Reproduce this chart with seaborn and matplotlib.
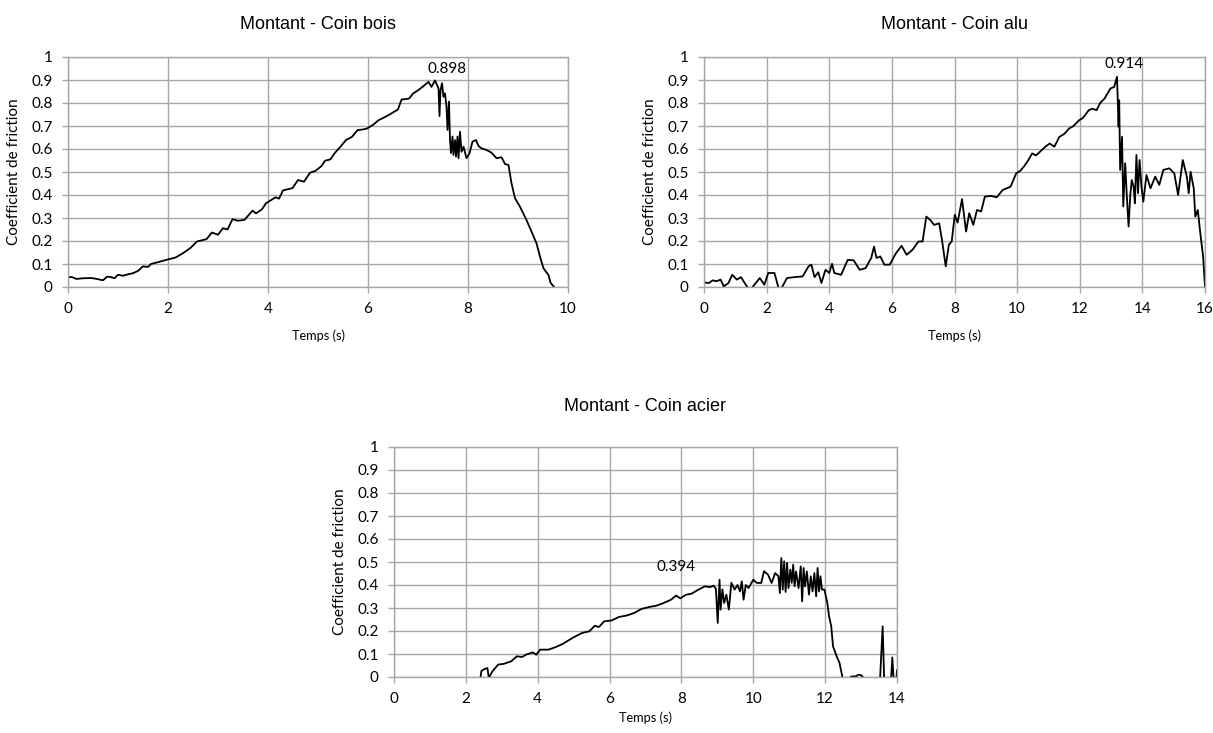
import numpy as np
import pandas as pd
import matplotlib
matplotlib.use("Agg")
import matplotlib.pyplot as plt
import seaborn as sns

# ---- Montant - Coin bois ----
t_bois = [0.0, 0.08, 0.17, 0.3, 0.47, 0.58, 0.70, 0.78, 0.86, 0.93, 1.0, 1.1, 1.2, 1.3,
          1.4, 1.5, 1.6, 1.66, 1.8, 2.0, 2.15, 2.3, 2.45, 2.58, 2.77, 2.88,
          3.0, 3.1, 3.19, 3.29, 3.4, 3.53, 3.69, 3.76, 3.88, 3.96, 4.15, 4.22, 4.3, 4.49,
          4.6, 4.72, 4.84, 4.95, 5.07, 5.14, 5.25, 5.33, 5.45, 5.56, 5.68, 5.79, 5.9,
          5.98, 6.1, 6.21, 6.33, 6.44, 6.6, 6.67, 6.82, 6.9,
          7.0, 7.09, 7.21, 7.27, 7.34, 7.41, 7.43, 7.45, 7.48, 7.51, 7.54, 7.57, 7.59, 7.62,
          7.64, 7.66, 7.69, 7.71, 7.74, 7.76, 7.79, 7.81, 7.84, 7.87, 7.91, 7.97, 8.03,
          8.09, 8.16, 8.21, 8.27, 8.37, 8.47, 8.57, 8.67, 8.74, 8.81, 8.87, 8.94, 9.04,
          9.17, 9.27, 9.37, 9.44, 9.51, 9.61, 9.65, 9.72]
mu_bois = [0.043, 0.043, 0.035, 0.038, 0.039, 0.035, 0.029, 0.045, 0.043, 0.038, 0.053,
           0.049, 0.055, 0.06, 0.07, 0.09, 0.087, 0.10, 0.108, 0.12, 0.128, 0.147, 0.17,
           0.198, 0.208, 0.237, 0.227, 0.256, 0.25, 0.295, 0.288, 0.292, 0.332, 0.32,
           0.338, 0.364, 0.39, 0.384, 0.42, 0.43, 0.465, 0.458, 0.497, 0.505, 0.526,
           0.549, 0.555, 0.581, 0.61, 0.639, 0.653, 0.682, 0.685, 0.689, 0.705, 0.725,
           0.738, 0.751, 0.772, 0.815, 0.819, 0.841, 0.855, 0.87, 0.892, 0.87, 0.898,
           0.864, 0.743, 0.855, 0.886, 0.827, 0.842, 0.784, 0.683, 0.806, 0.639, 0.582,
           0.654, 0.574, 0.639, 0.567, 0.654, 0.56, 0.675, 0.588, 0.61, 0.56, 0.581, 0.632,
           0.639, 0.613, 0.603, 0.596, 0.584, 0.56, 0.564, 0.535, 0.53, 0.451, 0.386,
           0.349, 0.291, 0.241, 0.19, 0.132, 0.081, 0.052, 0.019, 0.0]

# ---- Montant - Coin alu ----
t_alu = [0.0, 0.15, 0.28, 0.4, 0.53, 0.63, 0.78, 0.9, 1.05, 1.18, 1.4, 1.53, 1.78, 1.93,
         2.05, 2.25, 2.38, 2.48, 2.65, 2.9, 3.15, 3.34, 3.43, 3.53, 3.65, 3.75, 3.88, 4.0,
         4.09, 4.16, 4.38, 4.59, 4.78, 4.97, 5.16, 5.34, 5.43, 5.51, 5.63, 5.76, 5.93,
         6.13, 6.31, 6.47, 6.66, 6.85, 6.98, 7.1, 7.22, 7.35, 7.51, 7.6, 7.72, 7.82, 7.91,
         8.01, 8.1, 8.24, 8.37, 8.47, 8.6, 8.72, 8.85, 8.97, 9.16, 9.35, 9.54, 9.79, 9.97,
         10.1, 10.23, 10.35, 10.48, 10.6, 10.73, 10.9, 11.04, 11.19, 11.35, 11.5, 11.66,
         11.8, 11.98, 12.1, 12.29, 12.4, 12.54, 12.65, 12.79,
         12.98, 13.1, 13.19, 13.24, 13.26, 13.29, 13.35, 13.39, 13.45, 13.51, 13.56,
         13.61, 13.66, 13.72, 13.76, 13.81, 13.86, 13.91, 13.97, 14.03, 14.13, 14.26,
         14.41, 14.54, 14.67, 14.86, 15.02, 15.14, 15.29, 15.42, 15.48, 15.54, 15.64,
         15.69, 15.77, 15.85, 15.94, 16.0]
mu_alu = [0.02, 0.017, 0.029, 0.025, 0.032, 0.003, 0.017, 0.053, 0.032, 0.043, -0.004,
          -0.004, 0.039, 0.01, 0.061, 0.061, -0.004, -0.004, 0.039, 0.043, 0.046, 0.09,
          0.097, 0.043, 0.064, 0.017, 0.075, 0.061, 0.101, 0.061, 0.053, 0.118, 0.116,
          0.075, 0.082, 0.126, 0.176, 0.126, 0.133, 0.097, 0.097, 0.147, 0.179, 0.14,
          0.162, 0.198, 0.198, 0.306, 0.292, 0.27, 0.277, 0.205, 0.09, 0.184, 0.198,
          0.314, 0.28, 0.382, 0.241, 0.321, 0.27, 0.335, 0.328, 0.393, 0.396, 0.39,
          0.422, 0.436, 0.494, 0.505, 0.526, 0.55, 0.581, 0.572, 0.588, 0.61, 0.624, 0.61,
          0.653, 0.665, 0.689, 0.70, 0.725, 0.735, 0.769, 0.775, 0.769, 0.80, 0.819,
          0.863, 0.87, 0.914, 0.697, 0.812, 0.509, 0.653, 0.35,
          0.538, 0.379, 0.263, 0.393, 0.465, 0.436, 0.364, 0.574, 0.408, 0.552, 0.436,
          0.371, 0.487, 0.429, 0.48, 0.444, 0.509, 0.516, 0.494, 0.4, 0.552, 0.48, 0.408,
          0.501, 0.429, 0.306, 0.335, 0.234, 0.133, 0.0]

# ---- Montant - Coin acier ----
t_acier = [2.41, 2.43, 2.52, 2.6, 2.64, 2.74, 2.9, 3.05, 3.26, 3.42, 3.57, 3.67, 3.86,
           3.96, 4.07, 4.3, 4.5, 4.71, 4.97, 5.23, 5.44, 5.59, 5.7, 5.85, 6.06, 6.26,
           6.47, 6.68, 6.89, 7.09, 7.3, 7.51, 7.71, 7.85, 7.97, 8.13, 8.28, 8.44, 8.65,
           8.8, 8.9, 8.96, 9.01, 9.06, 9.09, 9.14, 9.19, 9.25, 9.32, 9.39, 9.48, 9.56,
           9.63, 9.68, 9.73, 9.79, 9.87, 10.0, 10.1, 10.22, 10.3, 10.41, 10.51, 10.61,
           10.7, 10.74, 10.78, 10.82, 10.86, 10.9, 10.94, 10.98, 11.03, 11.07, 11.11,
           11.15, 11.19, 11.26, 11.32, 11.36, 11.4, 11.44, 11.49, 11.55, 11.6, 11.65,
           11.7, 11.75, 11.79, 11.83, 11.87, 11.91, 11.98, 12.06, 12.11, 12.17, 12.22,
           12.32, 12.4, 12.48, 12.6, 12.72, 12.85, 12.93, 13.0, 13.05, 13.15, 13.5,
           13.6, 13.66, 13.8, 13.87, 13.94, 14.0]
mu_acier = [0.0, 0.025, 0.035, 0.039, -0.004, 0.025, 0.054, 0.057, 0.068, 0.09, 0.087,
            0.097, 0.107, 0.097, 0.119, 0.119, 0.13, 0.145, 0.17, 0.191, 0.199, 0.223,
            0.217, 0.242, 0.246, 0.261, 0.267, 0.278, 0.296, 0.304, 0.31, 0.322, 0.336,
            0.354, 0.342, 0.358, 0.362, 0.377, 0.394, 0.391, 0.397, 0.383, 0.235, 0.423,
            0.293, 0.381, 0.322, 0.358, 0.293, 0.41, 0.38, 0.4, 0.372, 0.416, 0.336, 0.4,
            0.387, 0.423, 0.409, 0.409, 0.46, 0.445, 0.409, 0.452, 0.438, 0.365, 0.517,
            0.38, 0.503, 0.37, 0.496, 0.387, 0.467, 0.409, 0.488, 0.394, 0.459, 0.387,
            0.481, 0.329, 0.474, 0.394, 0.459, 0.358, 0.438, 0.372, 0.452, 0.351, 0.474,
            0.372, 0.438, 0.38, 0.38, 0.322, 0.264, 0.22, 0.133, 0.09, 0.061, 0.0, -0.03,
            0.002, 0.003, 0.01, 0.008, 0.0, -0.05, -0.1, 0.22, -0.1, -0.1, 0.085, -0.1,
            0.03]

titles = ["Montant - Coin bois", "Montant - Coin alu", "Montant - Coin acier"]
x_max = [10, 16, 14]
x_step = [2, 2, 2]
y_ticks = [0, 0.1, 0.2, 0.3, 0.4, 0.5, 0.6, 0.7, 0.8, 0.9, 1]
y_tick_labels = ["0", "0.1", "0.2", "0.3", "0.4", "0.5", "0.6", "0.7", "0.8", "0.9", "1"]
labelled_t = [7.34, 13.19, 8.65]

sns.set_theme(style="whitegrid")
plt.rcParams["font.family"] = ["Lato", "DejaVu Sans"]

W, H = 1213, 733
fig = plt.figure(figsize=(W / 100, H / 100), dpi=100)
fig.patch.set_facecolor("white")

# pixel boxes (left, top, right, bottom) of the three plot areas
boxes = [(68, 57, 568, 287), (704, 57, 1205, 287), (394, 447, 897, 677)]
xlabel_y = [-0.183, -0.183, -0.150]
title_pad = [20, 20, 26]
# text offsets of value labels (points)
label_offsets = [(9, 3), (5, 4), (-21, 9)]

grid_c = "#a6a6a6"
series = [(t_bois, mu_bois), (t_alu, mu_alu), (t_acier, mu_acier)]

for i, ((t, mu), (l, tp, r, b)) in enumerate(zip(series, boxes)):
    ax = fig.add_axes([l / W, 1 - b / H, (r - l) / W, (b - tp) / H])
    df = pd.DataFrame({"Temps (s)": t, "Coefficient de friction": mu})
    sns.lineplot(data=df, x="Temps (s)", y="Coefficient de friction", ax=ax,
                 color="black", linewidth=1.3, estimator=None, sort=False)
    ax.set_xlim(0, x_max[i])
    ax.set_ylim(0, 1)
    ax.set_xticks(np.arange(0, x_max[i] + 0.01, x_step[i]))
    ax.set_yticks(y_ticks)
    ax.set_yticklabels(y_tick_labels)
    ax.grid(True, color=grid_c, linewidth=1.0)
    ax.set_facecolor("white")
    for s in ax.spines.values():
        s.set_color(grid_c)
        s.set_linewidth(1.0)
    ax.tick_params(axis="both", which="major", direction="out", length=4,
                   width=1.0, color=grid_c, labelsize=11, labelcolor="black", pad=7,
                   bottom=True, left=True)
    ax.set_xlabel("Temps (s)", fontsize=9.2, color="black")
    ax.set_ylabel("Coefficient de friction", fontsize=11, color="black")
    ax.xaxis.set_label_coords(0.5, xlabel_y[i])
    ax.yaxis.set_label_coords(-0.094, 0.5)
    ax.set_title(titles[i], family=["Liberation Sans", "DejaVu Sans"], fontsize=13,
                 color="black", pad=title_pad[i])

    # value label of the marked point
    k = int(np.argmin(np.abs(np.array(t) - labelled_t[i])))
    ax.annotate(f"{mu[k]:.3f}", xy=(t[k], mu[k]), xytext=label_offsets[i],
                textcoords="offset points", ha="center", va="bottom",
                fontsize=11, color="black", annotation_clip=False)

fig.savefig("out.png", dpi=100, facecolor="white")
